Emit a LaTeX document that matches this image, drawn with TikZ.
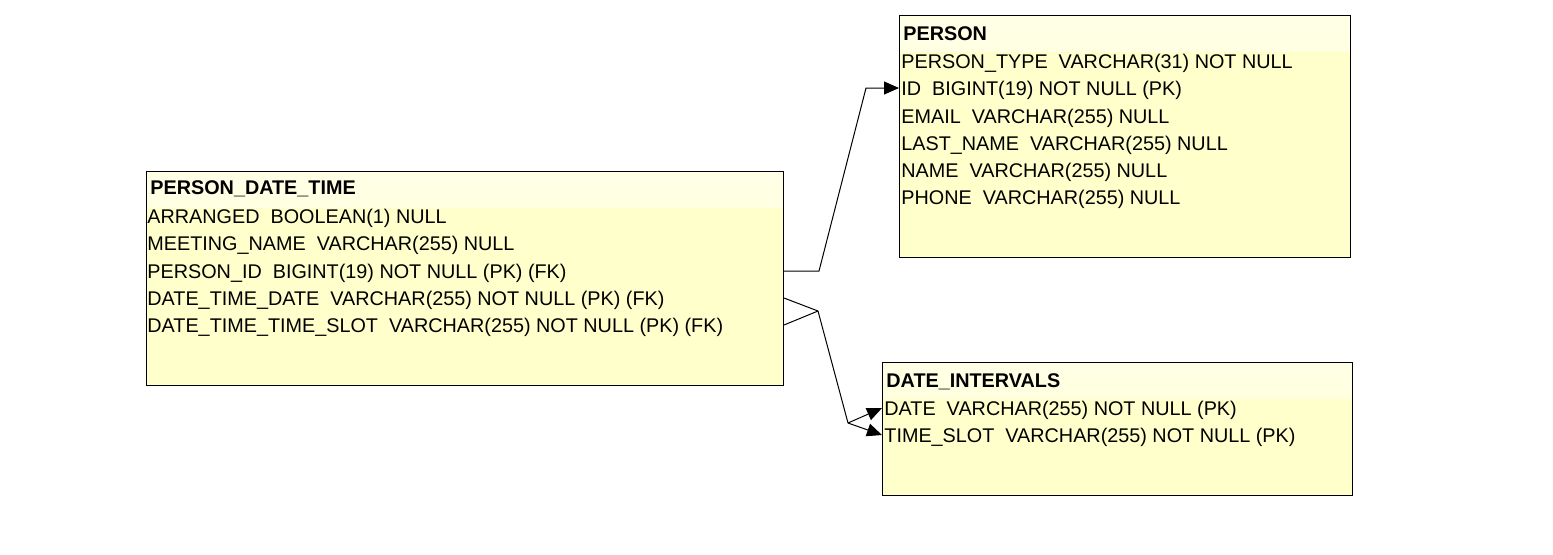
\documentclass[tikz,border=0pt]{standalone}
\usepackage{fontspec}
\setmainfont{Liberation Sans}
\usetikzlibrary{arrows.meta}
\definecolor{tblTop}{HTML}{FFFFE6}
\definecolor{tblFill}{HTML}{FFFFCC}
\begin{document}
\begin{tikzpicture}[x=0.5pt, y=-0.5pt,
  tbl/.style={draw=black, line width=0.5pt, fill=tblFill, anchor=north west, inner sep=0pt,
    path picture={\fill[top color=tblTop, bottom color=tblFill]
      (path picture bounding box.north west) rectangle ([yshift=-18pt]path picture bounding box.north east);}},
  hdr/.style={anchor=west, inner sep=0pt, font=\bfseries\fontsize{9.9}{11}\selectfont},
  fld/.style={anchor=west, inner sep=0pt, font=\fontsize{9.9}{11}\selectfont},
  fk/.style={line width=0.5pt},
  >={Triangle[length=7.5pt, width=6.5pt]}]
\useasboundingbox (0,0) rectangle (1553,554);

% Tabellen
\node (pdt) [tbl, minimum width=318.5pt, minimum height=107pt] at (146,171) {};
\node (person) [tbl, minimum width=225.5pt, minimum height=121pt] at (899,15) {};
\node (di) [tbl, minimum width=235pt, minimum height=66.5pt] at (882,362) {};

% PERSON_DATE_TIME
\node (pdtName) [hdr] at (150,189) {PERSON\_DATE\_TIME};
\node (pdtArr) [fld] at (147,218) {ARRANGED\ \ BOOLEAN(1) NULL};
\node (pdtMeet) [fld] at (147,245) {MEETING\_NAME\ \ VARCHAR(255) NULL};
\node (pdtPid) [fld] at (147,273) {PERSON\_ID\ \ BIGINT(19) NOT NULL (PK) (FK)};
\node (pdtDate) [fld] at (147,300) {DATE\_TIME\_DATE\ \ VARCHAR(255) NOT NULL (PK) (FK)};
\node (pdtSlot) [fld] at (147,327) {DATE\_TIME\_TIME\_SLOT\ \ VARCHAR(255) NOT NULL (PK) (FK)};

% PERSON
\node (personName) [hdr] at (903,34) {PERSON};
\node (personType) [fld] at (901,63) {PERSON\_TYPE\ \ VARCHAR(31) NOT NULL};
\node (personId) [fld] at (901,90) {ID\ \ BIGINT(19) NOT NULL (PK)};
\node (personMail) [fld] at (901,118) {EMAIL\ \ VARCHAR(255) NULL};
\node (personLast) [fld] at (901,145) {LAST\_NAME\ \ VARCHAR(255) NULL};
\node (personFirst) [fld] at (901,172) {NAME\ \ VARCHAR(255) NULL};
\node (personPhone) [fld] at (901,199) {PHONE\ \ VARCHAR(255) NULL};

% DATE_INTERVALS
\node (diName) [hdr] at (886,382) {DATE\_INTERVALS};
\node (diDate) [fld] at (884,410) {DATE\ \ VARCHAR(255) NOT NULL (PK)};
\node (diSlot) [fld] at (884,437) {TIME\_SLOT\ \ VARCHAR(255) NOT NULL (PK)};

% Fremdschluessel
\coordinate (bendA) at (866,88);
\draw[fk, ->] ([yshift=1pt]pdt.east |- pdtPid) -- ++(35,0) -- (bendA) -- ([yshift=1pt]person.west |- personId);

\coordinate (forkA) at (818,311);
\coordinate (forkB) at (848,423);
\draw[fk] ([yshift=1pt]pdt.east |- pdtDate) -- (forkA);
\draw[fk] ([yshift=1pt]pdt.east |- pdtSlot) -- (forkA);
\draw[fk] (forkA) -- (forkB);
\draw[fk, ->] (forkB) -- ([yshift=1pt]di.west |- diDate);
\draw[fk, ->] (forkB) -- ([yshift=1pt]di.west |- diSlot);

\end{tikzpicture}
\end{document}
